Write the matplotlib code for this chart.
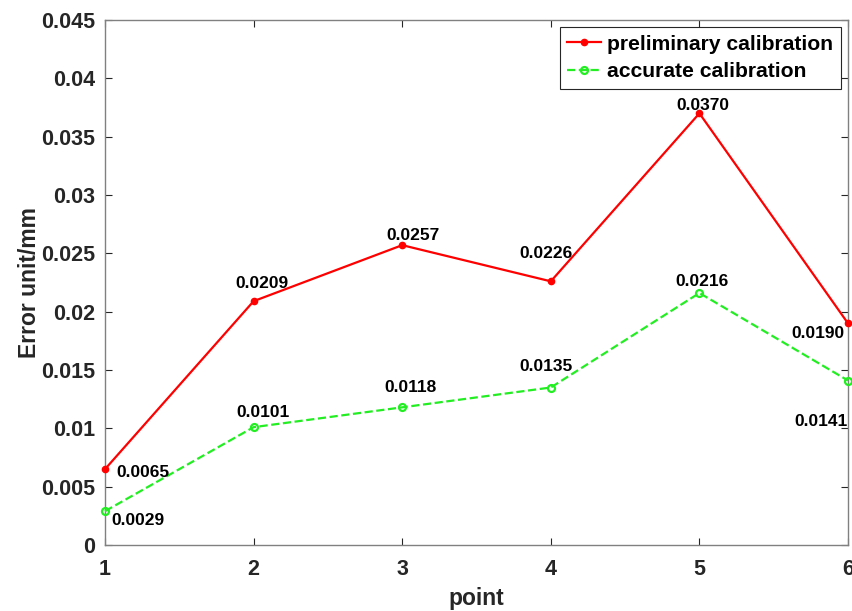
import matplotlib
matplotlib.use("Agg")
import matplotlib.pyplot as plt
import numpy as np

plt.rcParams['font.family'] = ['Liberation Sans', 'DejaVu Sans']
plt.rcParams['font.weight'] = 'bold'

points = [1, 2, 3, 4, 5, 6]
preliminary = [0.0065, 0.0209, 0.0257, 0.0226, 0.0370, 0.0190]
accurate = [0.0029, 0.0101, 0.0118, 0.0135, 0.0216, 0.0141]
prelim_labels = ['0.0065', '0.0209', '0.0257', '0.0226', '0.0370', '0.0190']
acc_labels = ['0.0029', '0.0101', '0.0118', '0.0135', '0.0216', '0.0141']
yticks = [0, 0.005, 0.01, 0.015, 0.02, 0.025, 0.03, 0.035, 0.04, 0.045]
ytick_labels = ['0', '0.005', '0.01', '0.015', '0.02', '0.025', '0.03', '0.035', '0.04', '0.045']

prelim_off = [(38, -3), (8, 18), (11, 10), (-5, 28), (3, 8), (-30, -10)]
acc_off = [(33, -9), (9, 15), (8, 20), (-5, 21), (3, 12), (-27, -41)]

fig = plt.figure(figsize=(8.53, 6.11), dpi=100)
ax = fig.add_axes([105/853, 66/611, 743/853, 525/611])

ax.plot(points, preliminary, '-', color='#ff0000', lw=1.6, marker='o', ms=4.5,
        label='preliminary calibration', clip_on=False, zorder=3)
ax.plot(points, accurate, '--', color='#22ee22', lw=1.6, marker='o', ms=5,
        mfc='none', mew=1.6, label='accurate calibration', clip_on=False, zorder=3)

for x, y, t, o in zip(points, preliminary, prelim_labels, prelim_off):
    ax.annotate(t, (x, y), xytext=o, textcoords='offset pixels', ha='center', va='center',
                fontsize=12.5, fontweight='bold', color='black')
for x, y, t, o in zip(points, accurate, acc_labels, acc_off):
    ax.annotate(t, (x, y), xytext=o, textcoords='offset pixels', ha='center', va='center',
                fontsize=12.5, fontweight='bold', color='black')

ax.set_xlim(1, 6)
ax.set_ylim(0, 0.045)
ax.set_xticks(points)
ax.set_xticklabels([str(p) for p in points])
ax.set_yticks(yticks)
ax.set_yticklabels(ytick_labels)
ax.tick_params(direction='in', top=True, right=True, labelsize=15.5, colors='#262626',
               length=5, width=0.8)
ax.tick_params(axis='x', pad=10)
ax.tick_params(axis='y', pad=7)
for lab in ax.get_xticklabels() + ax.get_yticklabels():
    lab.set_fontweight('bold')
for s in ax.spines.values():
    s.set_color('#808080')
    s.set_linewidth(1.0)

ax.set_xlabel('point', fontsize=16.5, fontweight='bold', color='#262626', labelpad=5)
ax.set_ylabel('Error unit/mm', fontsize=16.5, fontweight='bold', color='#262626', labelpad=0)

leg = ax.legend(loc='upper right', fontsize=15.2, handlelength=1.6, handletextpad=0.3,
                borderpad=0.35, labelspacing=0.4, fancybox=False, framealpha=1,
                edgecolor='#262626', borderaxespad=0.35)
leg.get_frame().set_linewidth(0.8)
for t in leg.get_texts():
    t.set_fontweight('bold')

fig.savefig('out.png', dpi=100)
